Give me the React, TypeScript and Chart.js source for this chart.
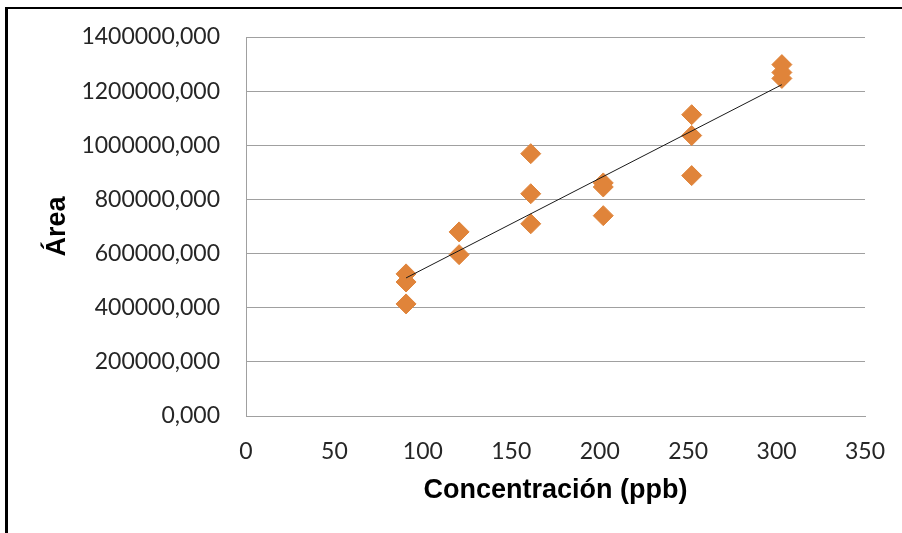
import React, { useEffect, useRef } from "react";
import { Chart, registerables } from "chart.js";

Chart.register(...registerables);

// Concentración (ppb) of each measurement
const concentration = [90.5, 90.5, 90.5, 120.5, 120.5, 161, 161, 161, 202, 202, 202, 252, 252, 252, 303, 303, 303];
// Área of each measurement
const area = [525000, 495000, 414000, 680000, 596000, 969000, 821000, 710000, 861000, 846000, 740000, 1113000, 1036000, 888000, 1298000, 1269000, 1247000];
// Linear trendline end points (as drawn)
const trendX = [90.5, 303];
const trendY = [510000, 1224000];

const xTicks = [0, 50, 100, 150, 200, 250, 300, 350];
const yTicks = [0, 200000, 400000, 600000, 800000, 1000000, 1200000, 1400000];

const xTitle = "Concentración (ppb)";
const yTitle = "Área";

const FONT = "Lato, 'Open Sans', sans-serif";
const TITLE_FONT = "'Liberation Sans', Arial, sans-serif";

const framePlugin = {
  id: "frame",
  beforeDraw(chart: any) {
    const ctx = chart.ctx;
    ctx.save();
    ctx.fillStyle = "#ffffff";
    ctx.fillRect(0, 0, chart.width, chart.height);
    ctx.strokeStyle = "#000000";
    ctx.lineWidth = 2;
    ctx.beginPath();
    ctx.moveTo(5, 8);
    ctx.lineTo(chart.width, 8);
    ctx.stroke();
    ctx.lineWidth = 3;
    ctx.beginPath();
    ctx.moveTo(6.5, 7);
    ctx.lineTo(6.5, chart.height);
    ctx.stroke();
    ctx.restore();
  },
};

export default function App() {
  const ref = useRef<HTMLCanvasElement | null>(null);

  useEffect(() => {
    if (!ref.current) return;
    const points = concentration.map((x, i) => ({ x, y: area[i] }));
    const trend = trendX.map((x, i) => ({ x, y: trendY[i] }));
    const chart = new Chart(ref.current, {
      type: "scatter",
      data: {
        datasets: [
          {
            type: "line",
            label: "Tendencia",
            data: trend,
            borderColor: "#1a1a1a",
            borderWidth: 1,
            pointRadius: 0,
            fill: false,
            order: 0,
          } as any,
          {
            label: "Área",
            data: points,
            pointStyle: "rectRot",
            pointRadius: 10,
            pointBackgroundColor: "#E0843A",
            pointBorderColor: "#E0843A",
            pointBorderWidth: 1,
            order: 1,
          },
        ],
      },
      options: {
        responsive: false,
        animation: false,
        layout: { padding: { left: 0, top: 37, right: 37, bottom: 0 } },
        plugins: {
          legend: { display: false },
          tooltip: { enabled: false },
        },
        scales: {
          x: {
            type: "linear",
            min: 0,
            max: 350,
            afterBuildTicks(scale: any) {
              scale.ticks = xTicks.map((v) => ({ value: v }));
            },
            afterFit(scale: any) {
              scale.height = 117;
              scale.paddingLeft = 0;
              scale.paddingRight = 0;
              scale.paddingTop = 0;
              scale.paddingBottom = 0;
            },
            grid: { display: false, drawTicks: false },
            border: { display: true, color: "#a0a0a0", width: 1 },
            ticks: {
              padding: 22,
              color: "#262626",
              font: { family: FONT, size: 23 },
              callback: (v: any) => String(v),
              maxRotation: 0,
            },
            title: {
              display: true,
              text: xTitle,
              color: "#000000",
              font: { family: TITLE_FONT, size: 27, weight: "bold" },
              padding: { top: 0, bottom: 26 },
            },
          },
          y: {
            type: "linear",
            min: 0,
            max: 1400000,
            afterBuildTicks(scale: any) {
              scale.ticks = yTicks.map((v) => ({ value: v }));
            },
            afterFit(scale: any) {
              scale.width = 246;
              scale.paddingLeft = 0;
              scale.paddingRight = 0;
              scale.paddingTop = 0;
              scale.paddingBottom = 0;
            },
            grid: { color: "#a0a0a0", lineWidth: 1, drawTicks: false },
            border: { display: true, color: "#a0a0a0", width: 1 },
            ticks: {
              padding: 26,
              color: "#262626",
              font: { family: FONT, size: 23 },
              callback: (v: any) => Number(v).toFixed(3).replace(".", ","),
            },
            title: {
              display: true,
              text: yTitle,
              color: "#000000",
              font: { family: TITLE_FONT, size: 27, weight: "bold" },
              padding: { top: 41, bottom: 0 },
            },
          },
        },
      },
      plugins: [framePlugin],
    });
    return () => chart.destroy();
  }, []);

  return (
    <div style={{ position: "fixed", left: 0, top: 0, width: 902, height: 533, background: "#fff" }}>
      <canvas ref={ref} width={902} height={533} style={{ display: "block" }} />
    </div>
  );
}
